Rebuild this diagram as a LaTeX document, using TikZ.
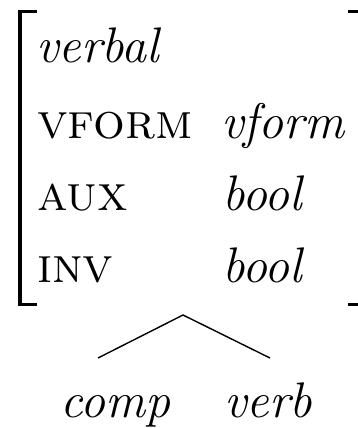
\documentclass[tikz,border=0pt]{standalone}
\begin{document}
\begin{tikzpicture}[x=1pt,y=-1pt,
  txt/.style={anchor=base west,inner sep=0pt,font=\fontsize{50}{60}\selectfont},
  brk/.style={line width=3.5pt,line cap=butt},
  edge/.style={line width=1.4pt}]
\useasboundingbox (0,0) rectangle (358,428);
\clip (0,0) rectangle (358,428);
% brackets
\draw[brk] (37,11.5) -- (20,11.5) -- (20,304.5) -- (37,304.5);
\draw[brk] (348,11.5) -- (362,11.5) -- (362,304.5) -- (348,304.5);
% matrix content
\node[txt] (type) at (36,63) {\textit{verbal}};
\node[txt] (f1) at (37,138) {\textsc{vform}};
\node[txt] (v1) at (221,138) {\textit{vform}};
\node[txt] (f2) at (37,210) {\textsc{aux}};
\node[txt] (v2) at (222,210) {\textit{bool}};
\node[txt] (f3) at (37,282) {\textsc{inv}};
\node[txt] (v3) at (222,282) {\textit{bool}};
% tree
\coordinate (apex) at (183,315);
\node[txt] (comp) at (60,417) {\textit{comp}};
\node[txt] (verb) at (224,417) {\textit{verb}};
\coordinate (lend) at (98,358);
\coordinate (rend) at (270,358);
\draw[edge] (lend) -- (apex) -- (rend);
\end{tikzpicture}
\end{document}
